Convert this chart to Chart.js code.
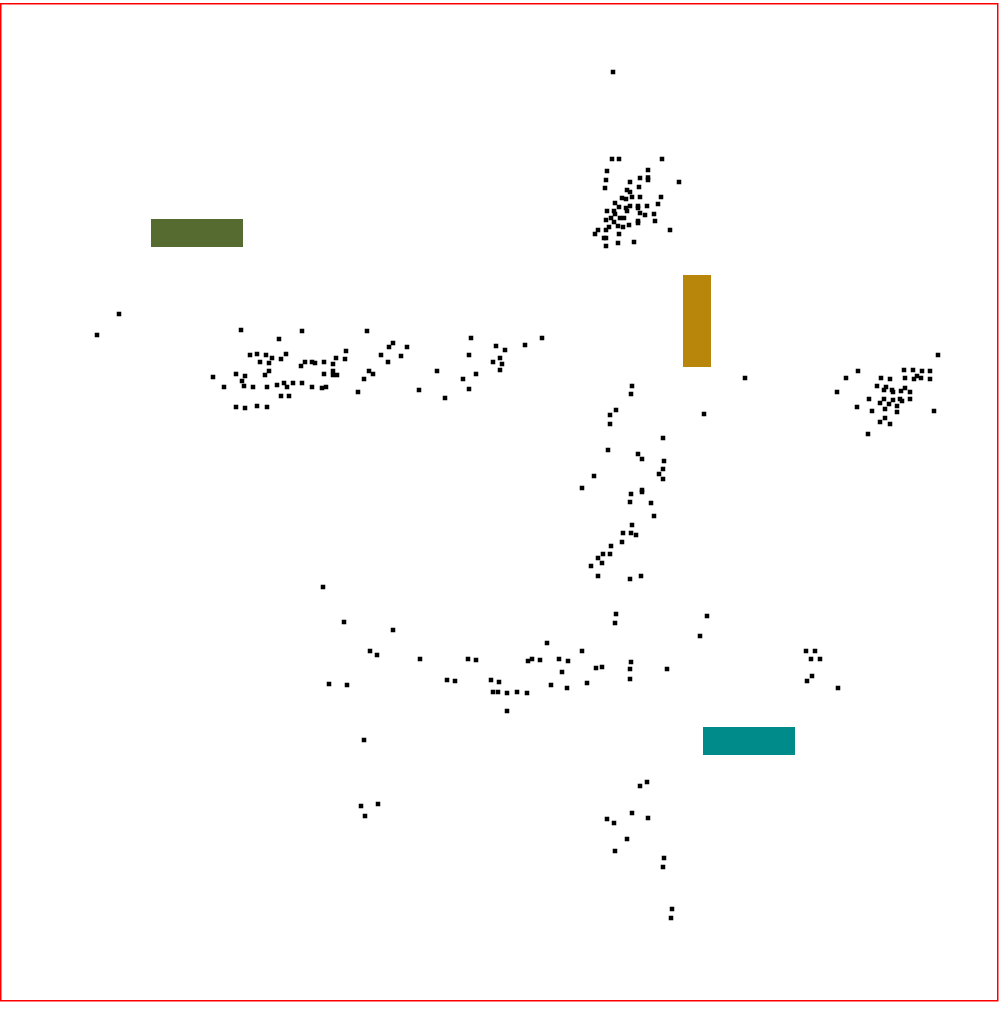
<!DOCTYPE html>
<html>
<head>
<meta charset="utf-8">
<script src="https://cdn.jsdelivr.net/npm/chart.js@4/dist/chart.umd.min.js"></script>
<style>
html,body{margin:0;padding:0;background:#fff;}
#wrap{width:1007px;height:1011px;}
</style>
</head>
<body>
<div id="wrap"><canvas id="c" width="1007" height="1011"></canvas></div>
<script>
// Point clusters, [x, y] in plot units (y grows downward)
const clusterTop = [[613,72],[612,159],[619,159],[662,159],[607,171],[648,170],[606,180],[640,178],[648,177.5],[648,180],[679,182],[630,182],[605,188],[639,187],[627,190],[630,192],[622,198],[626,199],[632,197],[640,197],[661,197],[615,203],[658,204],[619,207],[626,208],[630,206],[638,206],[638,208],[647,206],[607,211],[614,211],[615,214],[627,211],[640,213],[645,215],[654,214],[611,218],[620,218],[624,218],[606,220],[614,222],[638,221],[655,221],[609,227],[618,226],[623,227],[629,225],[638,223],[598,230],[606,230],[670,230],[595,234],[619,234],[604,238],[606,238],[618,243],[634,242],[606,246]];
const clusterLeft = [[119,314],[97,335],[241,330],[302,331],[279,339],[250,355],[257,354],[266,355],[272,358],[286,354],[260,362],[269,363],[281,359],[301,366],[305,362],[312,362],[315,363],[324,362],[333,364],[336,358],[346,351],[345,359],[213,377],[236,374],[245,376],[265,375],[269,371],[242,381],[224,387],[244,386],[253,387],[267,387],[277,385],[284,383],[287,387],[293,383],[302,383],[312,387],[322,388],[326,387],[324,374],[333,371],[333,375],[337,375],[281,396],[289,396],[236,407],[245,408],[257,406],[267,407]];
const clusterMid = [[367,331],[393,343],[389,347],[407,347],[381,355],[401,356],[388,362],[369,371],[373,374],[364,379],[358,392],[471,338],[496,346],[505,350],[525,345],[542,338],[469,355],[500,358],[502,364],[493,362],[500,370],[476,374],[437,371],[463,379],[469,389],[419,390],[445,398]];
const clusterRight = [[938,355],[858,371],[846,378],[904,370],[913,370],[922,371],[930,371],[881,378],[890,379],[905,378],[914,379],[917,376],[921,378],[930,379],[837,392],[877,386],[886,387],[884,390],[892,390],[893,392],[901,391],[905,388],[910,392],[869,399],[884,399],[893,400],[900,399],[902,401],[910,399],[880,403],[889,404],[897,406],[857,407],[872,411],[885,409],[897,412],[934,411],[885,418],[880,422],[890,424],[868,434]];
const clusterVertical = [[745,378],[632,386],[631,394],[616,410],[610,415],[610,424],[704,414],[663,438],[608,450],[638,454],[642,459],[664,461],[663,469],[659,474],[663,479],[594,476],[582,488],[642,490],[642,492],[631,494],[630,502],[651,503],[654,516],[632,525],[623,533],[631,533],[636,535],[622,542],[611,546],[603,554],[610,554],[598,558],[602,563],[591,566],[598,576],[630,579],[641,576]];
const clusterBottom = [[323,587],[344,622],[393,630],[370,651],[377,655],[420,659],[468,659],[476,660],[329,684],[347,685],[447,680],[455,681],[491,680],[499,682],[493,692],[498,692],[507,693],[517,692],[527,693],[507,711],[547,643],[528,661],[532,659],[540,660],[559,659],[551,685],[616,614],[615,623],[707,616],[700,636],[582,651],[568,661],[562,672],[596,668],[602,667],[631,662],[630,669],[630,679],[667,669],[567,688],[587,683],[806,651],[815,651],[811,659],[820,659],[812,676],[807,681],[838,688],[364,740],[361,806],[378,804],[365,816],[647,782],[640,786],[632,813],[648,818],[607,819],[614,823],[627,839],[615,851],[664,858],[663,867],[672,909],[671,918]];

// Rectangles: [xStart, xEnd, yStart, yEnd] in plot units
const boxGreen = [151, 243, 219, 247];
const boxGold = [683, 711, 275, 367];
const boxTeal = [703, 795, 727, 755];
const boxes = [boxGreen, boxGold, boxTeal];
const boxColors = ['#556B2F', '#B8860B', '#008B8B'];

const allPoints = [].concat(clusterTop, clusterLeft, clusterMid, clusterRight, clusterVertical, clusterBottom)
  .map(p => ({x: p[0], y: p[1]}));

const boxPlugin = {
  id: 'boxes',
  beforeDatasetsDraw(chart) {
    const {ctx, scales: {x, y}} = chart;
    ctx.save();
    boxes.forEach((b, i) => {
      const x0 = x.getPixelForValue(b[0]), x1 = x.getPixelForValue(b[1]);
      const y0 = y.getPixelForValue(b[2]), y1 = y.getPixelForValue(b[3]);
      ctx.fillStyle = boxColors[i];
      ctx.fillRect(Math.min(x0, x1), Math.min(y0, y1), Math.abs(x1 - x0), Math.abs(y1 - y0));
    });
    ctx.restore();
  },
  afterDraw(chart) {
    const {ctx, chartArea: a} = chart;
    ctx.save();
    ctx.strokeStyle = '#ff0000';
    ctx.lineWidth = 1.5;
    ctx.strokeRect(a.left - 0.25, a.top - 0.25, a.right - a.left, a.bottom - a.top);
    ctx.restore();
  }
};

new Chart(document.getElementById('c'), {
  type: 'scatter',
  data: {
    datasets: [{
      data: allPoints,
      pointStyle: 'rect',
      pointRadius: 3.2,
      pointHoverRadius: 3.2,
      backgroundColor: '#000000',
      borderWidth: 0,
      clip: false
    }]
  },
  options: {
    responsive: false,
    animation: false,
    events: [],
    layout: {autoPadding: false, padding: {left: 1, top: 4, right: 9, bottom: 10}},
    plugins: {legend: {display: false}, tooltip: {enabled: false}},
    scales: {
      x: {type: 'linear', min: 1, max: 998, display: false},
      y: {type: 'linear', min: 4, max: 1001, reverse: true, display: false}
    }
  },
  plugins: [boxPlugin]
});
</script>
</body>
</html>
